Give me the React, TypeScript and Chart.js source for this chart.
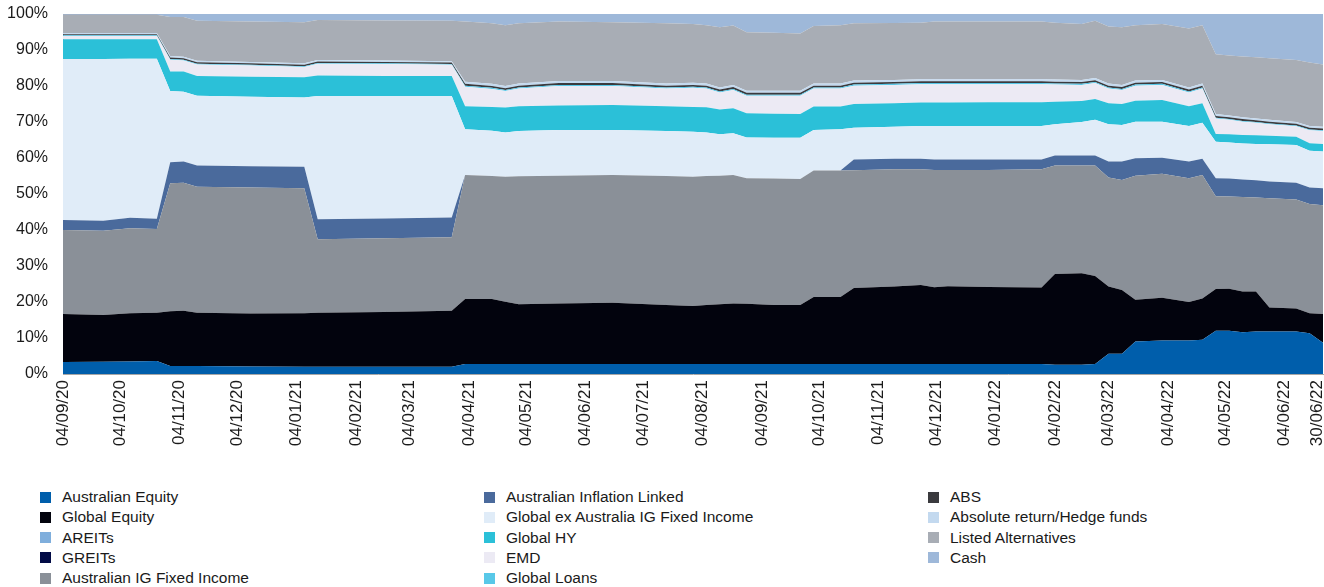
import React, { useEffect, useRef } from "react";
import { Chart, registerables } from "chart.js";

Chart.register(...registerables);

// Weekly observation dates (Fridays) at which the allocation changes shape
const dates = [
  "2020-09-04", "2020-09-25", "2020-10-09", "2020-10-23", "2020-10-30", "2020-11-06", "2020-11-13",
  "2020-12-11", "2021-01-08", "2021-01-15", "2021-02-19", "2021-03-26", "2021-04-02", "2021-04-16",
  "2021-04-23", "2021-04-30", "2021-05-21", "2021-06-18", "2021-07-16", "2021-07-30", "2021-08-06",
  "2021-08-13", "2021-08-20", "2021-08-27", "2021-09-10", "2021-09-24", "2021-10-01", "2021-10-15",
  "2021-10-22", "2021-11-12", "2021-11-26", "2021-12-03", "2021-12-10", "2021-12-31", "2022-01-28",
  "2022-02-04", "2022-02-18", "2022-02-25", "2022-03-04", "2022-03-11", "2022-03-18", "2022-04-01",
  "2022-04-15", "2022-04-22", "2022-04-29", "2022-05-06", "2022-05-13", "2022-05-20", "2022-05-27",
  "2022-06-10", "2022-06-17", "2022-06-24",
];

const australianEquity = [
  3.3, 3.4, 3.5, 3.6, 2.2, 2.2, 2.2, 2.1, 2.0, 2.0, 2.0, 2.0, 2.8, 2.8, 2.8, 2.8, 2.8, 2.8, 2.8, 2.8, 2.8,
  2.8, 2.8, 2.8, 2.8, 2.8, 2.8, 2.8, 2.8, 2.8, 2.8, 2.8, 2.8, 2.8, 2.8, 2.6, 2.6, 2.8, 5.6, 5.6, 9.0, 9.3,
  9.3, 9.5, 12.0, 12.0, 11.6, 11.8, 11.8, 11.8, 11.3, 8.7,
];
const globalEquity = [
  13.4, 13.0, 13.4, 13.4, 15.2, 15.4, 14.8, 14.7, 14.9, 15.0, 15.2, 15.6, 18.0, 18.0, 17.3, 16.6, 16.8, 17.0,
  16.4, 16.1, 16.4, 16.6, 16.8, 16.7, 16.4, 16.4, 18.6, 18.6, 21.1, 21.5, 21.9, 21.3, 21.6, 21.4, 21.2, 25.2,
  25.4, 24.4, 18.7, 17.7, 11.6, 11.9, 10.7, 11.5, 11.6, 11.7, 11.3, 11.1, 6.7, 6.4, 5.6, 8.0,
];
const areits = [
  0, 0, 0, 0, 0, 0, 0, 0, 0, 0, 0, 0, 0, 0, 0, 0, 0, 0, 0, 0, 0, 0, 0, 0, 0, 0,
  0, 0, 0, 0, 0, 0, 0, 0, 0, 0, 0, 0, 0, 0, 0, 0, 0, 0, 0, 0, 0, 0, 0, 0, 0, 0,
];
const greits = [
  0, 0, 0, 0, 0, 0, 0, 0, 0, 0, 0, 0, 0, 0, 0, 0, 0, 0, 0, 0, 0, 0, 0, 0, 0, 0,
  0, 0, 0, 0, 0, 0, 0, 0, 0, 0, 0, 0, 0, 0, 0, 0, 0, 0, 0, 0, 0, 0, 0, 0, 0, 0,
];
const australianIGFixedIncome = [
  23.3, 23.4, 23.6, 23.3, 35.6, 35.5, 35.0, 35.0, 34.7, 20.4, 20.5, 20.4, 34.5, 34.2, 34.7, 35.5, 35.5, 35.5,
  35.8, 35.9, 35.8, 35.7, 35.7, 34.9, 35.1, 35.0, 35.1, 35.1, 32.7, 32.6, 32.2, 32.6, 32.3, 32.5, 32.9, 30.1,
  29.9, 30.7, 30.3, 30.6, 34.5, 34.4, 34.4, 34.3, 25.8, 25.6, 26.3, 26.1, 30.3, 30.3, 30.3, 30.2,
];
const australianInflationLinked = [
  2.8, 2.8, 2.9, 2.8, 5.8, 5.9, 5.9, 5.9, 6.0, 5.6, 5.5, 5.5, 0, 0, 0, 0, 0, 0, 0, 0, 0, 0, 0, 0, 0, 0, 0,
  0, 3.0, 2.9, 2.9, 2.9, 2.9, 2.9, 2.7, 2.8, 2.8, 2.8, 4.4, 5.1, 4.8, 4.5, 4.6, 4.5, 5.0, 5.0, 4.8, 4.8, 4.7,
  4.6, 4.6, 4.7,
];
const globalExAustraliaIG = [
  44.7, 44.9, 44.2, 44.5, 19.8, 19.4, 19.4, 19.3, 19.2, 34.2, 34.0, 33.7, 12.7, 12.6, 12.3, 12.6, 12.7, 12.5,
  12.5, 12.5, 12.1, 11.5, 11.6, 11.3, 11.3, 11.4, 11.3, 11.5, 8.8, 8.9, 9.1, 9.3, 9.3, 9.3, 9.3, 8.7, 9.3,
  9.9, 10.4, 10.2, 10.2, 10.0, 9.9, 10.0, 10.1, 10.0, 10.0, 10.1, 10.3, 10.5, 10.2, 10.2,
];
const globalHY = [
  5.5, 5.5, 5.4, 5.4, 5.4, 5.6, 5.5, 5.6, 5.6, 5.7, 5.6, 5.6, 6.4, 6.6, 6.9, 6.9, 6.8, 6.9, 6.9, 6.9, 7.0,
  6.9, 6.9, 6.7, 6.7, 6.6, 6.5, 6.3, 6.6, 6.5, 6.5, 6.5, 6.5, 6.6, 6.6, 6.2, 5.8, 5.8, 5.8, 5.8, 5.8, 6.0,
  5.5, 5.4, 2.2, 2.3, 2.4, 2.4, 2.4, 2.3, 2.1, 2.1,
];
const emd = [
  0.9, 0.9, 0.9, 0.9, 3.3, 3.1, 3.2, 3.1, 2.9, 3.3, 3.3, 3.1, 5.4, 5.0, 4.6, 4.9, 5.4, 5.3, 4.9, 5.3, 5.2,
  4.7, 5.1, 4.9, 5.0, 5.1, 5.0, 5.0, 5.1, 5.1, 5.1, 5.1, 5.1, 5.0, 5.0, 4.8, 4.5, 4.4, 4.1, 3.9, 4.2, 4.2,
  3.8, 4.1, 4.3, 4.0, 3.7, 3.5, 3.2, 2.9, 3.6, 3.6,
];
const globalLoans = [
  0.2, 0.2, 0.2, 0.2, 0.2, 0.2, 0.2, 0.2, 0.2, 0.2, 0.2, 0.2, 0.3, 0.3, 0.3, 0.3, 0.3, 0.3, 0.3, 0.3, 0.3,
  0.3, 0.3, 0.3, 0.3, 0.3, 0.3, 0.3, 0.3, 0.3, 0.3, 0.3, 0.3, 0.3, 0.3, 0.3, 0.3, 0.3, 0.3, 0.3, 0.3, 0.3,
  0.3, 0.3, 0.2, 0.2, 0.2, 0.2, 0.2, 0.2, 0.2, 0.2,
];
const abs = [
  0.3, 0.3, 0.3, 0.3, 0.4, 0.4, 0.4, 0.4, 0.4, 0.4, 0.4, 0.4, 0.5, 0.5, 0.5, 0.5, 0.5, 0.5, 0.5, 0.5, 0.5,
  0.5, 0.5, 0.5, 0.5, 0.5, 0.5, 0.5, 0.5, 0.5, 0.5, 0.5, 0.5, 0.5, 0.5, 0.5, 0.5, 0.5, 0.5, 0.5, 0.5, 0.5,
  0.5, 0.5, 0.5, 0.5, 0.5, 0.5, 0.5, 0.5, 0.5, 0.5,
];
const absoluteReturn = [
  0.3, 0.3, 0.3, 0.3, 0.4, 0.4, 0.4, 0.4, 0.4, 0.4, 0.4, 0.4, 0.6, 0.6, 0.6, 0.6, 0.6, 0.6, 0.6, 0.6, 0.6,
  0.6, 0.6, 0.6, 0.6, 0.6, 0.6, 0.6, 0.6, 0.6, 0.6, 0.6, 0.6, 0.6, 0.6, 0.6, 0.6, 0.6, 0.6, 0.6, 0.6, 0.6,
  0.6, 0.6, 0.5, 0.5, 0.5, 0.5, 0.5, 0.5, 0.5, 0.5,
];
const listedAlternatives = [
  5.1, 5.1, 5.1, 5.1, 10.9, 11.1, 11.1, 11.2, 11.4, 11.1, 11.1, 11.2, 16.7, 16.8, 16.9, 16.7, 16.5, 16.3,
  16.7, 16.3, 16.2, 16.7, 16.5, 16.2, 16.1, 15.9, 16.0, 16.2, 15.9, 15.8, 15.7, 16.0, 16.0, 16.0, 16.0, 15.8,
  15.5, 15.9, 15.8, 16.0, 15.4, 15.5, 16.4, 16.2, 16.6, 16.7, 16.9, 17.0, 17.1, 17.2, 17.6, 17.3,
];
const cash = [
  0.2, 0.2, 0.2, 0.2, 0.8, 0.8, 1.9, 2.1, 2.3, 1.7, 1.8, 1.9, 2.1, 2.6, 3.1, 2.6, 2.1, 2.3, 2.6, 2.8, 3.1,
  3.7, 3.2, 5.1, 5.2, 5.4, 3.3, 3.1, 2.6, 2.5, 2.4, 2.1, 2.1, 2.1, 2.1, 2.4, 2.8, 1.9, 3.5, 3.7, 3.1, 2.8,
  4.0, 3.1, 11.2, 11.5, 11.8, 12.0, 12.3, 12.8, 13.5, 14.0,
];

const tickLabels = [
  "04/09/20", "04/10/20", "04/11/20", "04/12/20", "04/01/21", "04/02/21", "04/03/21", "04/04/21",
  "04/05/21", "04/06/21", "04/07/21", "04/08/21", "04/09/21", "04/10/21", "04/11/21", "04/12/21",
  "04/01/22", "04/02/22", "04/03/22", "04/04/22", "04/05/22", "04/06/22", "30/06/22",
];

const series = [
  { label: "Australian Equity", values: australianEquity, color: "#005EAB" },
  { label: "Global Equity", values: globalEquity, color: "#02030D" },
  { label: "AREITs", values: areits, color: "#7FAEDC" },
  { label: "GREITs", values: greits, color: "#010A45" },
  { label: "Australian IG Fixed Income", values: australianIGFixedIncome, color: "#8A9098" },
  { label: "Australian Inflation Linked", values: australianInflationLinked, color: "#4A6A9C" },
  { label: "Global ex Australia IG Fixed Income", values: globalExAustraliaIG, color: "#E0ECF8" },
  { label: "Global HY", values: globalHY, color: "#2BC0D8" },
  { label: "EMD", values: emd, color: "#ECEAF4" },
  { label: "Global Loans", values: globalLoans, color: "#58C8E8" },
  { label: "ABS", values: abs, color: "#3A3A3E" },
  { label: "Absolute return/Hedge funds", values: absoluteReturn, color: "#C3D9EF" },
  { label: "Listed Alternatives", values: listedAlternatives, color: "#A8ADB5" },
  { label: "Cash", values: cash, color: "#9EB8D9" },
];

const FONT = '"Liberation Sans", Arial, Helvetica, sans-serif';
const DAY = 86400000;
const start = Date.parse(dates[0]);
const dayOf = (iso: string) => Math.round((Date.parse(iso) - start) / DAY);
const xs = dates.map(dayOf);
const lastDay = xs[xs.length - 1];
// labels past the last observation are pulled in so they stay inside the frame
const tickDays = tickLabels.map((l) => {
  const [d, m, y] = l.split("/");
  return Math.min(dayOf(`20${y}-${m}-${d}`), lastDay - 3);
});

export default function App() {
  const ref = useRef<HTMLCanvasElement | null>(null);

  useEffect(() => {
    document.body.style.margin = "0";
    if (!ref.current) return;
    const chart = new Chart(ref.current, {
      type: "line",
      data: {
        datasets: series.map((s, i) => ({
          label: s.label,
          data: s.values.map((v, j) => ({ x: xs[j], y: v })),
          backgroundColor: s.color,
          borderColor: s.color,
          borderWidth: 0,
          pointRadius: 0,
          pointHoverRadius: 0,
          fill: i === 0 ? "origin" : "-1",
          tension: 0,
        })),
      },
      options: {
        animation: false,
        responsive: true,
        maintainAspectRatio: false,
        layout: { padding: { top: 14, right: 1, left: 0, bottom: 0 } },
        plugins: { legend: { display: false }, tooltip: { enabled: false } },
        scales: {
          x: {
            type: "linear",
            min: 0,
            max: lastDay,
            z: 1,
            grid: { display: false, drawTicks: false },
            border: { display: true, color: "#A6A6A6", width: 1 },
            afterBuildTicks: (scale: any) => {
              scale.ticks = tickDays.map((v) => ({ value: v }));
            },
            afterFit: (scale: any) => {
              scale.height = 88;
              scale.paddingLeft = 0;
              scale.paddingRight = 0;
            },
            ticks: {
              autoSkip: false,
              maxRotation: 90,
              minRotation: 90,
              padding: 6,
              color: "#1a1a1a",
              font: { family: FONT, size: 17 },
              callback: (value: any) => {
                const i = tickDays.indexOf(Number(value));
                return i >= 0 ? tickLabels[i] : "";
              },
            },
          },
          y: {
            stacked: true,
            min: 0,
            max: 100,
            z: 1,
            grid: {
              display: true,
              drawTicks: false,
              color: (c: any) => (c.tick && c.tick.value === 100 ? "#A6A6A6" : "rgba(0,0,0,0)"),
            },
            border: { display: true, color: "#A6A6A6", width: 1 },
            afterFit: (scale: any) => {
              scale.width = 63;
              scale.paddingTop = 0;
              scale.paddingBottom = 0;
            },
            ticks: {
              stepSize: 10,
              padding: 15,
              color: "#1a1a1a",
              font: { family: FONT, size: 16 },
              callback: (v: any) => `${v}%`,
            },
          },
        },
      },
    });
    return () => chart.destroy();
  }, []);

  return (
    <div style={{ position: "relative", width: 1324, height: 587, fontFamily: FONT }}>
      <div style={{ position: "absolute", left: 0, top: 0, width: 1324, height: 462 }}>
        <canvas ref={ref} />
      </div>
      <div
        style={{
          position: "absolute",
          left: 40,
          top: 487,
          display: "grid",
          gridTemplateRows: "repeat(5, 20.25px)",
          gridTemplateColumns: "444px 444px 380px",
          gridAutoFlow: "column",
        }}
      >
        {series.map((s) => (
          <div key={s.label} style={{ display: "flex", alignItems: "center", height: 20.25 }}>
            <span style={{ display: "inline-block", width: 11, height: 11, background: s.color, marginRight: 11 }} />
            <span style={{ fontSize: 15.5, color: "#1a1a1a", whiteSpace: "nowrap" }}>{s.label}</span>
          </div>
        ))}
      </div>
    </div>
  );
}
